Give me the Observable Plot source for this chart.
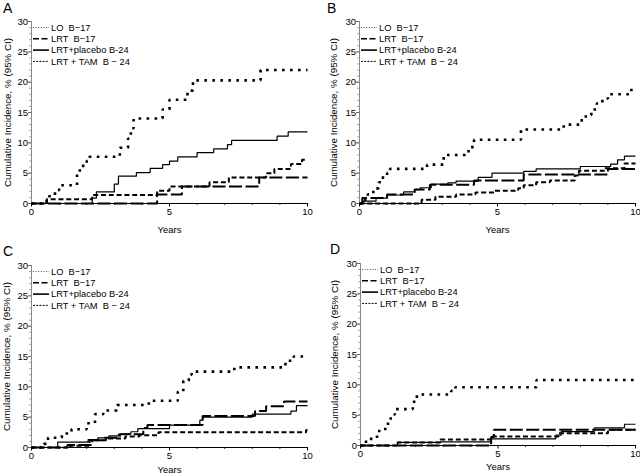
<!DOCTYPE html>
<html><head><meta charset="utf-8">
<script src="https://cdn.jsdelivr.net/npm/d3@7"></script>
<script src="https://cdn.jsdelivr.net/npm/@observablehq/plot@0.6"></script>
<style>
body{margin:0;background:#fff;}
#wrap{position:relative;width:640px;height:476px;overflow:hidden;background:#fff;}
.panel{position:absolute;}
</style></head><body><div id="wrap"></div>
<script>
// ---- Data: [years, cumulative incidence %] change points (step-after) ----
const SERIES = ["LO  B\u221217", "LRT  B\u221217", "LRT+placebo B-24", "LRT + TAM  B \u2212 24"];
const PANEL_LETTERS = ["A", "B", "C", "D"];
const X_TICKS = [0, 5, 10];
const X_MINOR = [1, 2, 3, 4, 6, 7, 8, 9];
const Y_TICKS = [0, 5, 10, 15, 20, 25, 30];
const Y_MINOR = d3.range(0, 31, 1);
const X_LABEL = "Years";
const Y_LABEL = "Cumulative Incidence, % (95% CI)";

// Panel A
const A_LO = [[0,0],[0.55,1.2],[0.85,2.2],[1.0,3.0],[1.65,5.0],[1.75,6.2],[2.0,7.0],[2.1,7.7],[3.2,9.2],[3.5,10.7],[3.6,12.4],[3.7,14.0],[4.75,15.5],[5.0,17.1],[5.65,18.6],[5.85,20.3],[8.3,22.0],[10,22.0]];
const A_LRT = [[0,0],[4.55,1.5],[5.45,2.8],[8.25,4.3],[10,4.3]];
const A_PLA = [[0,0],[2.2,0.9],[2.35,1.9],[3.0,3.2],[3.15,4.5],[3.8,5.1],[4.3,5.8],[4.75,6.4],[5.0,7.0],[5.3,7.7],[6.0,8.4],[6.6,9.0],[7.1,9.7],[7.25,10.4],[8.9,11.1],[9.3,11.8],[10,11.8]];
const A_TAM = [[0,0],[0.55,0.7],[2.2,1.4],[4.55,2.1],[5.0,2.8],[6.45,3.5],[7.15,4.3],[8.5,5.0],[8.8,5.7],[9.4,6.5],[9.8,7.2],[10,7.2]];
// Panel B
const B_LO = [[0,0],[0.1,0.6],[0.3,1.5],[0.5,2.5],[0.7,3.5],[0.85,4.5],[1.0,5.0],[1.1,5.7],[2.45,6.4],[3.05,8.0],[3.95,9.3],[4.15,10.5],[5.85,12.2],[7.4,13.0],[8.0,13.7],[8.2,14.6],[8.4,15.5],[8.6,16.5],[8.8,17.3],[9.0,18.0],[9.8,18.7],[10,18.7]];
const B_LRT = [[0,0],[0.1,0.9],[1.0,1.5],[2.0,2.3],[2.55,3.1],[4.15,3.8],[5.95,4.8],[9.0,5.7],[10,5.7]];
const B_PLA = [[0,0],[0.15,0.4],[0.6,0.9],[1.0,1.4],[1.6,1.9],[2.0,2.3],[2.2,2.6],[2.6,3.2],[3.2,3.4],[3.5,3.7],[4.3,4.3],[4.8,5.0],[5.95,5.3],[6.4,5.7],[8.0,6.1],[9.1,6.5],[9.35,7.2],[9.6,7.8],[10,7.8]];
const B_TAM = [[0,0],[2.25,0.6],[2.75,1.1],[3.5,1.5],[4.2,1.8],[4.9,2.1],[5.75,2.5],[5.95,3.0],[6.4,3.5],[6.9,3.8],[7.8,4.6],[7.95,5.4],[8.9,5.8],[9.6,6.6],[10,6.6]];
// Panel C
const C_LO = [[0,0],[0.45,0.6],[0.6,1.6],[1.1,2.3],[1.45,3.0],[2.0,4.0],[2.3,5.5],[2.6,6.1],[3.1,7.0],[4.25,7.7],[5.3,9.2],[5.5,11.0],[5.7,12.0],[5.8,12.5],[7.35,13.2],[9.2,14.3],[9.5,15.0],[10,15.0]];
const C_LRT = [[0,0],[1.3,0.4],[2.2,1.2],[2.6,1.6],[3.2,2.2],[4.05,3.2],[4.2,3.7],[6.2,5.2],[8.1,6.0],[8.5,6.8],[9.15,7.6],[10,7.6]];
const C_PLA = [[0,0],[0.95,0.9],[2.05,1.3],[2.4,1.6],[2.8,1.9],[3.15,2.2],[3.6,2.6],[3.85,3.1],[5.0,3.7],[6.1,4.5],[6.2,5.0],[8.0,5.5],[9.4,6.0],[9.6,6.9],[10,6.9]];
const C_TAM = [[0,0],[1.4,0.3],[2.1,1.2],[2.7,1.5],[3.4,1.8],[3.9,2.0],[4.6,2.5],[9.95,2.9],[10,2.9]];
// Panel D
const D_LO = [[0,0],[0.2,1.1],[0.6,2.4],[0.9,3.3],[1.0,4.2],[1.1,5.1],[1.25,6.0],[1.9,7.2],[2.05,8.4],[3.3,9.0],[3.45,9.6],[6.4,10.8],[10,10.8]];
const D_LRT = [[0,0],[4.75,1.4],[4.85,2.6],[10,2.6]];
const D_PLA = [[0,0],[1.35,0.5],[2.9,0.6],[4.75,1.1],[7.1,1.7],[7.3,2.3],[8.5,2.9],[9.6,3.5],[10,3.5]];
const D_TAM = [[0,0],[1.35,0.5],[2.9,1.0],[4.8,1.5],[7.2,2.0],[9.0,2.6],[10,2.6]];

const PANEL_DATA = [
  [A_LO, A_LRT, A_PLA, A_TAM],
  [B_LO, B_LRT, B_PLA, B_TAM],
  [C_LO, C_LRT, C_PLA, C_TAM],
  [D_LO, D_LRT, D_PLA, D_TAM]
];

// ---- Layout / styles ----
const FONT = "'Liberation Sans', Arial, Helvetica, sans-serif";
const LAYOUT = [
  {left:0,   top:0,   mt:21, mr:13, mb:35, ml:31, lx:3,  ly:12.5, ylab:-24, yearsDy:26},
  {left:320, top:0,   mt:21, mr:5,  mb:35, ml:39, lx:7,  ly:12.5, ylab:-25.5, yearsDy:26},
  {left:0,   top:238, mt:27, mr:13, mb:29, ml:31, lx:3,  ly:18,   ylab:-25,   yearsDy:22.5},
  {left:320, top:238, mt:25, mr:5,  mb:31, ml:40, lx:10, ly:16,   ylab:-26,   yearsDy:21}
];
const LINE_STYLE = [
  {strokeWidth:2.6, strokeDasharray:"2.6 5.4"},
  {strokeWidth:2.0, strokeDasharray:"13 3.5"},
  {strokeWidth:1.2, strokeDasharray:null},
  {strokeWidth:2.0, strokeDasharray:"5 2.8"}
];
const SWATCH_STYLE = [
  {w:1.0, dash:"1 1.6", color:"#555"},
  {w:1.6, dash:"6 2.5", color:"#000"},
  {w:1.6, dash:null, color:"#000"},
  {w:1.0, dash:"2 1.2", color:"#000"}
];

const wrap = document.getElementById("wrap");

PANEL_DATA.forEach((series, p) => {
  const L = LAYOUT[p];
  const rows = [];
  series.forEach((pts, s) => pts.forEach(([t, v]) => rows.push({t, v, s})));
  const lineMarks = series.map((pts, s) => Plot.line(rows.filter(d => d.s === s), {
    x: "t", y: "v", curve: "step-after", stroke: "black",
    strokeWidth: LINE_STYLE[s].strokeWidth,
    strokeDasharray: LINE_STYLE[s].strokeDasharray,
    strokeLinecap: "butt", strokeLinejoin: "miter"
  }));
  const chart = Plot.plot({
    width: 320, height: 238,
    marginTop: L.mt, marginRight: L.mr, marginBottom: L.mb, marginLeft: L.ml,
    style: {fontFamily: FONT, fontSize: "9.5px", background: "transparent", color: "black", overflow: "visible"},
    x: {domain: [0, 10]},
    y: {domain: [0, 30]},
    marks: [
      Plot.axisY({ticks: Y_MINOR, tickSize: 1.8, text: null, label: null, stroke: "#888", strokeWidth: 0.8}),
      Plot.axisY({ticks: Y_TICKS, tickSize: 3, tickPadding: 0.5, label: null, stroke: "#666", fontSize: 9.5}),
      Plot.axisX({ticks: X_MINOR, tickSize: 2, text: null, label: null, strokeWidth: 0.8}),
      Plot.axisX({ticks: X_TICKS, tickSize: 3.5, tickPadding: 1.5, label: null, fontSize: 9.5}),
      Plot.ruleX([0], {stroke: "#888", strokeWidth: 1}),
      Plot.ruleY([0], {stroke: "black", strokeWidth: 1}),
      ...lineMarks,
      Plot.text([X_LABEL], {text: d => d, frameAnchor: "bottom", dy: L.yearsDy, lineAnchor: "middle", textAnchor: "middle", fontSize: 9.5}),
      Plot.text([Y_LABEL], {text: d => d, frameAnchor: "left", dx: L.ylab, rotate: -90, textAnchor: "middle", lineAnchor: "middle", fontSize: 9.8})
    ]
  });
  const div = document.createElement("div");
  div.className = "panel";
  div.style.left = L.left + "px";
  div.style.top = L.top + "px";
  div.appendChild(chart);
  wrap.appendChild(div);

  const svg = d3.select(chart);
  // panel letter
  svg.append("text").attr("x", L.lx).attr("y", L.ly)
    .attr("text-anchor", "start")
    .attr("font-family", FONT).attr("font-size", 14).attr("fill", "black")
    .text(PANEL_LETTERS[p]);
  // legend
  const g = svg.append("g").attr("transform", `translate(${L.ml},${L.mt})`)
    .attr("text-anchor", "start");
  SERIES.forEach((name, i) => {
    const y = 6.5 + i * 11.3;
    const st = SWATCH_STYLE[i];
    g.append("line").attr("x1", 2).attr("x2", 18).attr("y1", y).attr("y2", y)
      .attr("stroke", st.color).attr("stroke-width", st.w)
      .attr("stroke-dasharray", st.dash);
    g.append("text").attr("x", 20).attr("y", y).attr("dy", "0.35em")
      .attr("text-anchor", "start")
      .attr("font-family", FONT).attr("font-size", 9.3).attr("fill", "black")
      .style("white-space", "pre").text(name);
  });
});
</script>
</body></html>
